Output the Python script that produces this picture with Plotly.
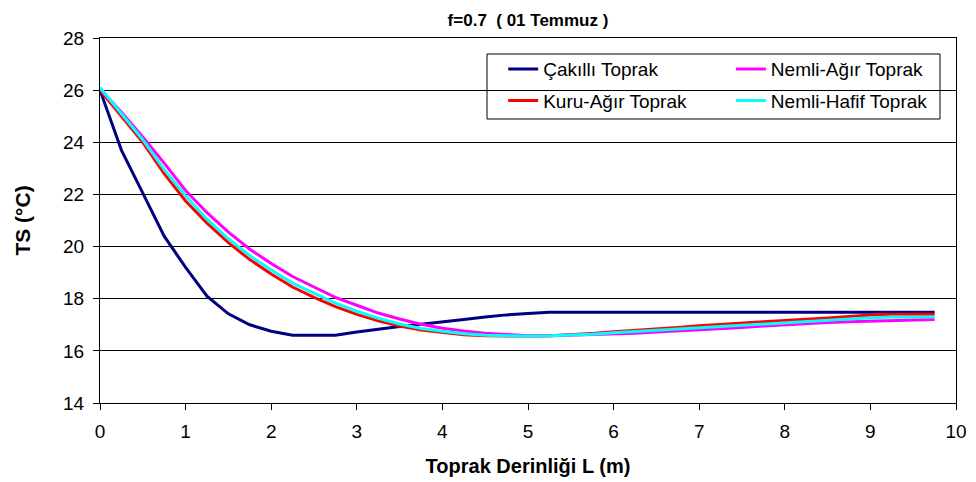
import plotly.graph_objects as go

# Soil depth (m) and surface-temperature profiles TS (°C) for four soil types
depth = [0.0, 0.25, 0.5, 0.75, 1.0, 1.25, 1.5, 1.75, 2.0, 2.25, 2.5, 2.75, 3.0, 3.25,
         3.5, 3.75, 4.0, 4.25, 4.5, 4.75, 5.0, 5.25, 5.5, 5.75, 6.0, 6.25, 6.5, 6.75,
         7.0, 7.25, 7.5, 7.75, 8.0, 8.25, 8.5, 8.75, 9.0, 9.25, 9.5, 9.75]

cakilli = [26.0, 23.7, 22.05, 20.4, 19.2, 18.1, 17.42, 17.0, 16.75, 16.6, 16.6, 16.6,
           16.72, 16.83, 16.93, 17.02, 17.1, 17.2, 17.3, 17.38, 17.43, 17.48, 17.48, 17.48,
           17.48, 17.48, 17.48, 17.48, 17.48, 17.48, 17.48, 17.48, 17.48, 17.48, 17.48,
           17.48, 17.48, 17.48, 17.48, 17.48]

kuru_agir = [26.0, 25.0, 24.0, 22.8, 21.75, 20.9, 20.15, 19.5, 18.95, 18.45, 18.05, 17.7,
             17.4, 17.15, 16.95, 16.8, 16.72, 16.62, 16.58, 16.57, 16.57, 16.58, 16.62,
             16.67, 16.73, 16.78, 16.84, 16.9, 16.96, 17.02, 17.07, 17.12, 17.16, 17.2,
             17.26, 17.32, 17.38, 17.4, 17.4, 17.4]

nemli_agir = [26.05, 25.15, 24.2, 23.2, 22.15, 21.3, 20.55, 19.9, 19.35, 18.85, 18.45,
              18.05, 17.75, 17.45, 17.22, 17.02, 16.87, 16.76, 16.68, 16.62, 16.58, 16.58,
              16.6, 16.62, 16.65, 16.68, 16.72, 16.76, 16.8, 16.85, 16.9, 16.95, 17.0,
              17.04, 17.09, 17.12, 17.14, 17.14, 17.16, 17.2]

nemli_hafif = [26.1, 25.1, 24.1, 22.95, 21.95, 21.05, 20.3, 19.65, 19.1, 18.6, 18.2,
               17.83, 17.52, 17.25, 17.03, 16.86, 16.75, 16.66, 16.6, 16.58, 16.57, 16.58,
               16.6, 16.64, 16.69, 16.74, 16.79, 16.84, 16.89, 16.94, 16.99, 17.04, 17.08,
               17.12, 17.17, 17.22, 17.27, 17.3, 17.3, 17.3]

series = [
    ("Çakıllı Toprak", cakilli, "#000080", "legend", "g1"),
    ("Kuru-Ağır Toprak", kuru_agir, "#FF0000", "legend", "g2"),
    ("Nemli-Ağır Toprak", nemli_agir, "#FF00FF", "legend2", "g3"),
    ("Nemli-Hafif Toprak", nemli_hafif, "#00FFFF", "legend2", "g4"),
]

FONT = "Liberation Sans, Arial, sans-serif"

fig = go.Figure()
for name, vals, color, leg, grp in series:
    fig.add_trace(go.Scatter(
        x=depth, y=vals, mode="lines", name=name,
        line=dict(color=color, width=3),
        legend=leg, legendgroup=grp,
    ))

legend_common = dict(
    bgcolor="rgba(0,0,0,0)", borderwidth=0,
    font=dict(family=FONT, size=19, color="black"),
    orientation="v", tracegroupgap=4,
    xanchor="left", yanchor="top", y=0.967,
)

fig.update_layout(
    width=976, height=482,
    margin=dict(l=100, r=20, t=38, b=79, autoexpand=False),
    paper_bgcolor="white", plot_bgcolor="white",
    font=dict(family=FONT, color="black"),
    title=dict(
        text="<b>f=0.7\u00a0\u00a0( 01 Temmuz )</b>",
        font=dict(family=FONT, size=17, color="black"),
        x=528 / 976, xref="container", xanchor="center",
        y=1 - 20 / 482, yref="container", yanchor="middle",
    ),
    legend=dict(x=0.471, **legend_common),
    legend2=dict(x=0.737, **legend_common),
    showlegend=True,
    shapes=[dict(
        type="rect", xref="paper", yref="paper",
        x0=(487 - 100) / 856, x1=(940 - 100) / 856,
        y0=1 - (119 - 38) / 365, y1=1 - (54 - 38) / 365,
        line=dict(color="black", width=1), fillcolor="white", layer="between",
    )],
    xaxis=dict(
        range=[0, 10], dtick=1, tick0=0,
        showgrid=False, zeroline=False,
        showline=True, linecolor="black", linewidth=1, mirror=True,
        ticks="outside", ticklen=6, tickcolor="black", ticklabelstandoff=5,
        tickfont=dict(family=FONT, size=19, color="black"),
        title=dict(text="<b>Toprak Derinliği L (m)</b>",
                   font=dict(family=FONT, size=20, color="black"), standoff=18),
    ),
    yaxis=dict(
        range=[14, 28], dtick=2, tick0=14,
        showgrid=True, gridcolor="black", gridwidth=1, zeroline=False,
        showline=True, linecolor="black", linewidth=1, mirror=True,
        ticks="outside", ticklen=6, tickcolor="black", ticklabelstandoff=5,
        tickfont=dict(family=FONT, size=19, color="black"),
        title=dict(text="<b>TS (°C)</b>",
                   font=dict(family=FONT, size=21, color="black"), standoff=26),
    ),
)

fig.write_html("out.html")
